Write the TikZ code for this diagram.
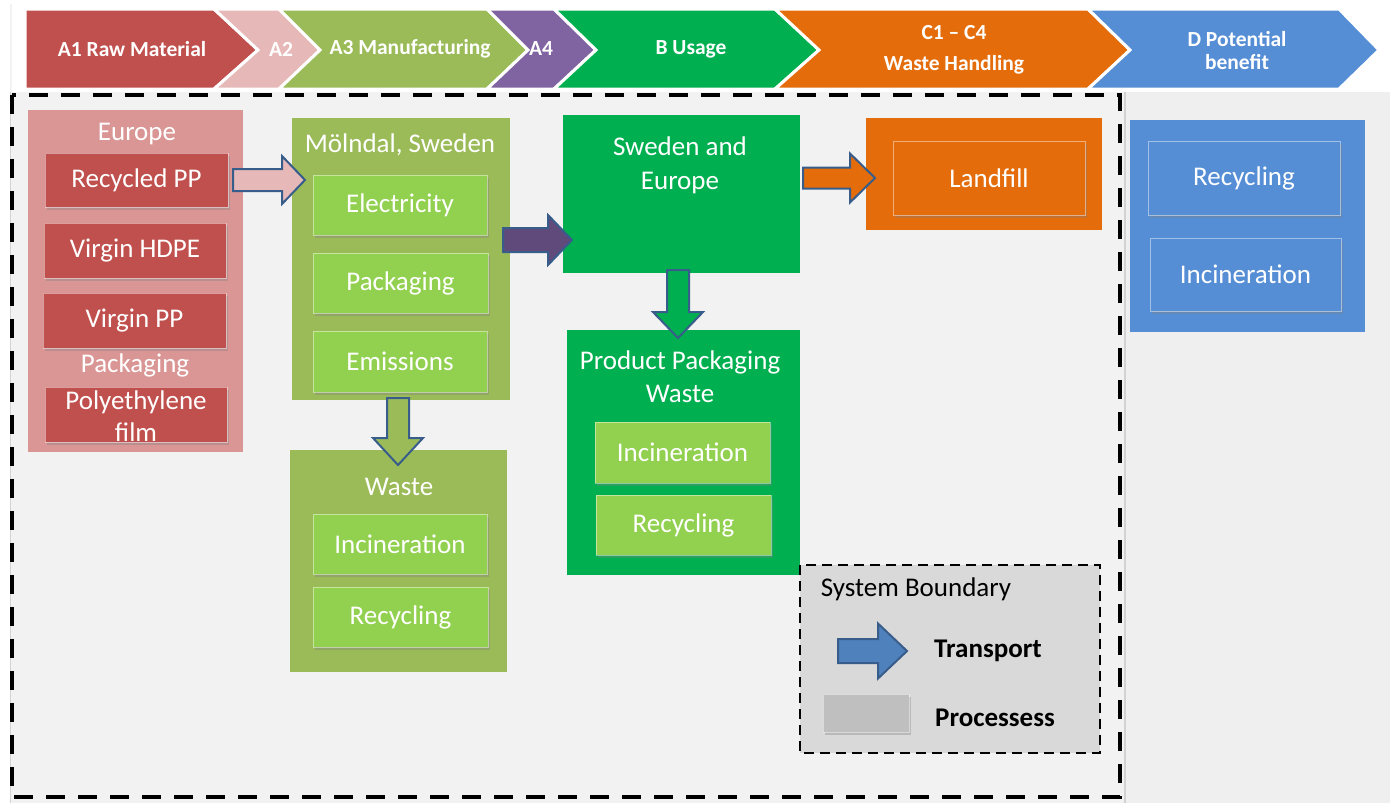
\documentclass[tikz,border=0pt]{standalone}
\usepackage{fontspec}
\setmainfont{Carlito}
\usetikzlibrary{shadows,calc}
\definecolor{bgc}{HTML}{F2F2F2}
\definecolor{bgd}{HTML}{EFEFEF}
\definecolor{cred}{HTML}{C0504D}
\definecolor{cpinkpanel}{HTML}{D99694}
\definecolor{cpink}{HTML}{E6B9B8}
\definecolor{colive}{HTML}{9BBB59}
\definecolor{clgreen}{HTML}{92D050}
\definecolor{cpurple}{HTML}{8064A2}
\definecolor{cdpurple}{HTML}{604A7B}
\definecolor{cgreen}{HTML}{00B050}
\definecolor{corange}{HTML}{E46C0A}
\definecolor{cblue}{HTML}{558ED5}
\definecolor{carrowblue}{HTML}{4F81BD}
\definecolor{cborder}{HTML}{385D8A}
\definecolor{clegend}{HTML}{D9D9D9}
\definecolor{cproc}{HTML}{BFBFBF}
\tikzset{
  chev/.style={draw=white, line width=3pt, line join=miter},
  htext/.style={text=white, font=\fontsize{21.5}{24}\selectfont\bfseries, align=center, inner sep=0pt},
  panel/.style={inner sep=0pt, outer sep=0pt},
  ibox/.style={inner sep=0pt, outer sep=0pt, draw=white, draw opacity=0.45, line width=1pt,
     drop shadow={shadow xshift=2pt, shadow yshift=-3pt, opacity=0.35}},
  wtext/.style={text=white, font=\fontsize{27}{33}\selectfont, align=center, inner sep=0pt},
  ltext/.style={text=black, font=\fontsize{27}{33}\selectfont, inner sep=0pt},
  lbold/.style={text=black, font=\fontsize{27}{33}\selectfont\bfseries, inner sep=0pt},
  harrow/.style n args={3}{to path={let \p1=(\tikztostart), \p2=(\tikztotarget) in
     (\x1,\y1+#1) -- (\x2-#3,\y1+#1) -- (\x2-#3,\y1+#2) -- (\x2,\y1) -- (\x2-#3,\y1-#2)
     -- (\x2-#3,\y1-#1) -- (\x1,\y1-#1) -- cycle}},
  varrow/.style n args={3}{to path={let \p1=(\tikztostart), \p2=(\tikztotarget) in
     (\x1+#1,\y1) -- (\x1+#1,\y2+#3) -- (\x1+#2,\y2+#3) -- (\x1,\y2) -- (\x1-#2,\y2+#3)
     -- (\x1-#1,\y2+#3) -- (\x1-#1,\y1) -- cycle}},
  tarrow/.style={draw=cborder, line width=2pt, line join=miter},
}
\begin{document}
\begin{tikzpicture}[x=1pt,y=-1pt]
\useasboundingbox (0,0) rectangle (1396,803);
\fill[white] (0,0) rectangle (1396,803);
\fill[bgc] (10,4) rectangle (1390,803);
\fill[bgd] (1125,92) rectangle (1390,803);
\draw[gray!35, line width=1.5pt] (1125,92) -- (1125,803);
\draw[gray!35, line width=1pt] (10,92) -- (10,803);
\fill[white] (12,4) rectangle (1390,92);

% header chevrons
\draw[chev, fill=cred] (25,9) -- (214,9) -- (258,50) -- (214,89) -- (25,89) -- cycle;
\draw[chev, fill=cpink] (214,9) -- (279,9) -- (320,50) -- (279,89) -- (214,89) -- (258,50) -- cycle;
\draw[chev, fill=colive] (279,9) -- (487,9) -- (528,50) -- (487,89) -- (279,89) -- (320,50) -- cycle;
\draw[chev, fill=cpurple] (487,9) -- (554,9) -- (596,50) -- (554,89) -- (487,89) -- (528,50) -- cycle;
\draw[chev, fill=cgreen] (554,9) -- (775,9) -- (819,50) -- (775,89) -- (554,89) -- (596,50) -- cycle;
\draw[chev, fill=corange] (775,9) -- (1088,9) -- (1130,50) -- (1088,89) -- (775,89) -- (819,50) -- cycle;
\draw[chev, fill=cblue] (1088,9) -- (1339,9) -- (1379,50) -- (1339,89) -- (1088,89) -- (1130,50) -- cycle;
\node[htext] (ha1) at (132,49) {A1 Raw Material};
\node[htext] (ha2) at (281,49) {A2};
\node[htext] (ha3) at (410,49) {A3 Manufacturing};
\node[htext] (ha4) at (541,49) {A4};
\node[htext] (hb) at (691,49) {B Usage};
\node[htext] (hc1) at (954,33) {C1 – C4};
\node[htext] (hc2) at (954,65) {Waste Handling};
\node[htext] (hd1) at (1237,39) {D Potential};
\node[htext] (hd2) at (1237,62) {benefit};

% main system boundary
\draw[black, line width=4pt, dash pattern=on 19pt off 13pt] (12,95) rectangle (1120,797);

% A1 Europe
\node[panel, fill=cpinkpanel, minimum width=215pt, minimum height=342pt] (eur) at (135.5,281) {};
\node[wtext] (eurl) at (137,134) {Europe};
\node[ibox, fill=cred, minimum width=183pt, minimum height=54pt] (rpp) at (136.5,180) {};
\node[wtext] at (rpp) {Recycled PP};
\node[ibox, fill=cred, minimum width=182pt, minimum height=55pt] (vhdpe) at (135,250.5) {};
\node[wtext] at (vhdpe) {Virgin HDPE};
\node[ibox, fill=cred, minimum width=183pt, minimum height=55pt] (vpp) at (134.5,320.5) {};
\node[wtext] at (vpp) {Virgin PP};
\node[wtext] (packl) at (135,365) {Packaging};
\node[ibox, fill=cred, minimum width=182pt, minimum height=55pt] (pef) at (136,414.5) {};
\node[wtext, font=\fontsize{27}{32}\selectfont] at (136,416) {Polyethylene\\film};

% A3 Molndal
\node[panel, fill=colive, minimum width=218pt, minimum height=282pt] (mol) at (401,259) {};
\node[wtext] (moll) at (400,145) {Mölndal, Sweden};
\node[ibox, fill=clgreen, minimum width=174pt, minimum height=60pt] (elec) at (400,205) {};
\node[wtext] at (elec) {Electricity};
\node[ibox, fill=clgreen, minimum width=175pt, minimum height=60pt] (mpack) at (400.5,283) {};
\node[wtext] at (mpack) {Packaging};
\node[ibox, fill=clgreen, minimum width=174pt, minimum height=61pt] (emis) at (400,361.5) {};
\node[wtext] at (emis) {Emissions};

% A3 waste
\node[panel, fill=colive, minimum width=217pt, minimum height=222pt] (mwaste) at (398.5,561) {};
\node[wtext] (mwastel) at (399,487) {Waste};
\node[ibox, fill=clgreen, minimum width=174pt, minimum height=60pt] (winc) at (400,544) {};
\node[wtext] at (winc) {Incineration};
\node[ibox, fill=clgreen, minimum width=175pt, minimum height=60pt] (wrec) at (400.5,617) {};
\node[wtext] at (wrec) {Recycling};

% B usage
\node[panel, fill=cgreen, minimum width=237pt, minimum height=158pt] (swe) at (681.5,194) {};
\node[wtext, font=\fontsize{27}{34}\selectfont] (swel) at (680,165) {Sweden and\\Europe};
\node[panel, fill=cgreen, minimum width=233pt, minimum height=245pt] (ppw) at (683.5,452.5) {};
\node[wtext] (ppwl) at (680,377) {Product Packaging\\Waste};
\node[ibox, fill=clgreen, minimum width=175pt, minimum height=61pt] (pinc) at (682.5,452.5) {};
\node[wtext] at (pinc) {Incineration};
\node[ibox, fill=clgreen, minimum width=175pt, minimum height=60pt] (prec) at (683.5,525) {};
\node[wtext] at (prec) {Recycling};

% C landfill
\node[panel, fill=corange, minimum width=236pt, minimum height=112pt] (land) at (984,174) {};
\node[ibox, fill=corange, minimum width=192pt, minimum height=74pt] (landin) at (989,178) {};
\node[wtext] at (landin) {Landfill};

% D benefit
\node[panel, fill=cblue, minimum width=235pt, minimum height=212pt] (dpan) at (1247.5,226) {};
\node[ibox, fill=cblue, minimum width=192pt, minimum height=74pt] (drec) at (1244,178) {};
\node[wtext] at (drec) {Recycling};
\node[ibox, fill=cblue, minimum width=191pt, minimum height=73pt] (dinc) at (1245.5,274.5) {};
\node[wtext] at (dinc) {Incineration};

% transport arrows
\coordinate (a1s) at ($(rpp.east)+(5,0)$);
\coordinate (a1e) at ($(mol.west)+(13,-79)$);
\draw[tarrow, fill=cpink] (a1s) to[harrow={11pt}{24pt}{23pt}] (a1e);
\coordinate (a2s) at ($(mol.east)+(-7,-19)$);
\coordinate (a2e) at ($(swe.west)+(9,46)$);
\draw[tarrow, fill=cdpurple] (a2s) to[harrow={12pt}{25pt}{24pt}] (a2e);
\coordinate (a3s) at ($(mol.south)+(-3,-2)$);
\coordinate (a3e) at ($(mwaste.north)+(-0.5,15)$);
\draw[tarrow, fill=colive] (a3s) to[varrow={11pt}{25pt}{27pt}] (a3e);
\coordinate (a4s) at ($(swe.south)+(-3.5,-3)$);
\coordinate (a4e) at ($(ppw.north)+(-5.5,8)$);
\draw[tarrow, fill=cgreen] (a4s) to[varrow={11pt}{25pt}{26pt}] (a4e);
\coordinate (a5s) at ($(swe.east)+(3,-16)$);
\coordinate (a5e) at ($(land.west)+(9,4)$);
\draw[tarrow, fill=corange] (a5s) to[harrow={10.5pt}{24.5pt}{25pt}] (a5e);

% legend
\draw[black, line width=2.5pt, dash pattern=on 10pt off 6pt, fill=clegend] (800,565) rectangle (1100,753);
\node[ltext] (lsb) at (916,589) {System Boundary};
\coordinate (lgs) at (838,651);
\coordinate (lge) at (907,651);
\draw[tarrow, fill=carrowblue] (lgs) to[harrow={12pt}{27.5pt}{29pt}] (lge);
\node[lbold] (ltr) at (988,651) {Transport};
\node[ibox, fill=cproc, minimum width=86pt, minimum height=38pt] (lproc) at (866,713) {};
\node[lbold] (lpr) at (995,718) {Processess};
\end{tikzpicture}
\end{document}
